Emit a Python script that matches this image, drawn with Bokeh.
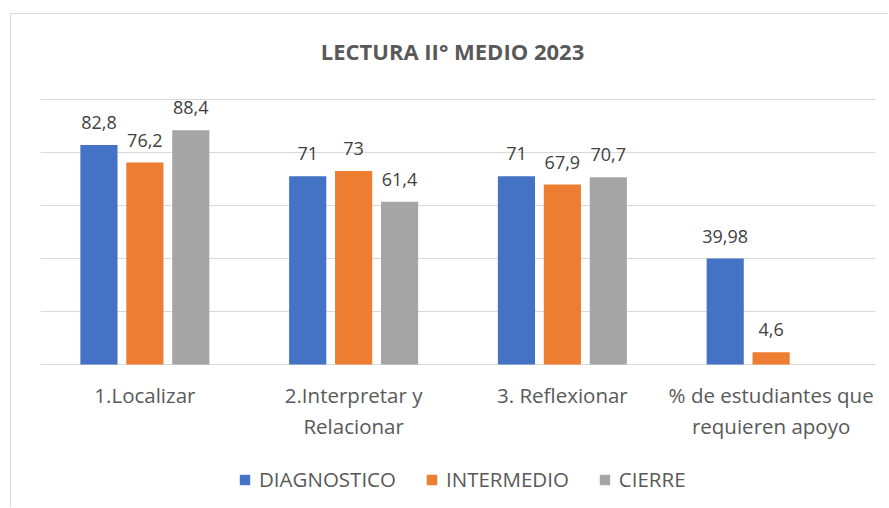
from bokeh.plotting import figure
from bokeh.models import ColumnDataSource, FactorRange, LabelSet, Label, Legend, LegendItem, FixedTicker, Range1d
from bokeh.core.properties import value
from bokeh.transform import dodge
from bokeh.embed import file_html
from bokeh.resources import INLINE

# ---- data ----
categories = ["1.Localizar", "2.Interpretar y\nRelacionar", "3. Reflexionar",
              "% de estudiantes que\nrequieren apoyo"]
series_names = ["DIAGNOSTICO", "INTERMEDIO", "CIERRE"]
diagnostico = [82.8, 71, 71, 39.98]
intermedio = [76.2, 73, 67.9, 4.6]
cierre = [88.4, 61.4, 70.7, None]
y_ticks = [0, 20, 40, 60, 80, 100]
title_text = "LECTURA II° MEDIO 2023"

colors = ["#4472C4", "#ED7D31", "#A5A5A5"]
offsets = [-0.22, 0.0, 0.22]
FONT = "Open Sans"

# the frame spans the whole canvas height so the title, category labels and
# legend (drawn as annotations) are not clipped; grid only at 0..100
p = figure(x_range=FactorRange(*categories),
           y_range=Range1d(-54.34, 132.08),
           width=878, height=494, output_backend="svg", toolbar_location=None,
           min_border_left=29, min_border_right=14, min_border_top=0, min_border_bottom=0,
           margin=(13, 0, 0, 10),
           styles={"border-left": "1px solid #d9d9d9", "border-top": "1px solid #d9d9d9"})
p.x_range.range_padding = 0
p.x_range.factor_padding = 0

p.outline_line_color = None
p.background_fill_color = "white"
p.border_fill_color = "white"

p.yaxis.visible = False
p.xaxis.visible = False
p.ygrid.ticker = FixedTicker(ticks=y_ticks)
p.ygrid.grid_line_color = "#d9d9d9"
p.ygrid.grid_line_width = 1
p.xgrid.grid_line_color = None

# title
p.add_layout(Label(x=412, y=457.5, x_units="screen", y_units="screen", text=title_text,
                   text_align="center", text_baseline="alphabetic",
                   text_font=FONT, text_font_size="22px", text_font_style="bold",
                   text_color="#595959"))

# category labels under the baseline (each line centred)
line1 = [c.split("\n")[0] for c in categories]
line2 = [c.split("\n")[1] if "\n" in c else "" for c in categories]
cat_src = ColumnDataSource(dict(cat=categories, y0=[0] * len(categories), l1=line1, l2=line2))
for field, off in (("l1", -38.5), ("l2", -69.3)):
    p.add_layout(LabelSet(x="cat", y="y0", text=field, source=cat_src, y_offset=off,
                          text_align="center", text_baseline="alphabetic",
                          text_font=value(FONT), text_font_size="20.5px", text_color="#595959"))

items = []
for name, vals, color, off in zip(series_names, [diagnostico, intermedio, cierre], colors, offsets):
    xs = [c for c, v in zip(categories, vals) if v is not None]
    ys = [v for v in vals if v is not None]
    labels = [str(v).replace(".", ",") for v in ys]
    src = ColumnDataSource(dict(cat=xs, val=ys, lab=labels))
    r = p.vbar(x=dodge("cat", off, range=p.x_range), top="val", width=0.178, source=src,
               fill_color=color, line_color=None)
    p.add_layout(LabelSet(x=dodge("cat", off, range=p.x_range), y="val", text="lab", source=src,
                          y_offset=16, text_align="center", text_baseline="alphabetic",
                          text_font=value(FONT), text_font_size="18px", text_color="#404040"))
    items.append(LegendItem(label=name, renderers=[r]))

legend = Legend(items=items, orientation="horizontal", location=(198, 15),
                glyph_width=13, glyph_height=13, label_standoff=8, spacing=29,
                padding=0, margin=0, border_line_color=None, background_fill_alpha=0,
                label_text_font=FONT, label_text_font_size="20.5px", label_text_color="#595959")
p.add_layout(legend, "center")

open("out.html", "w").write(file_html(p, INLINE))
